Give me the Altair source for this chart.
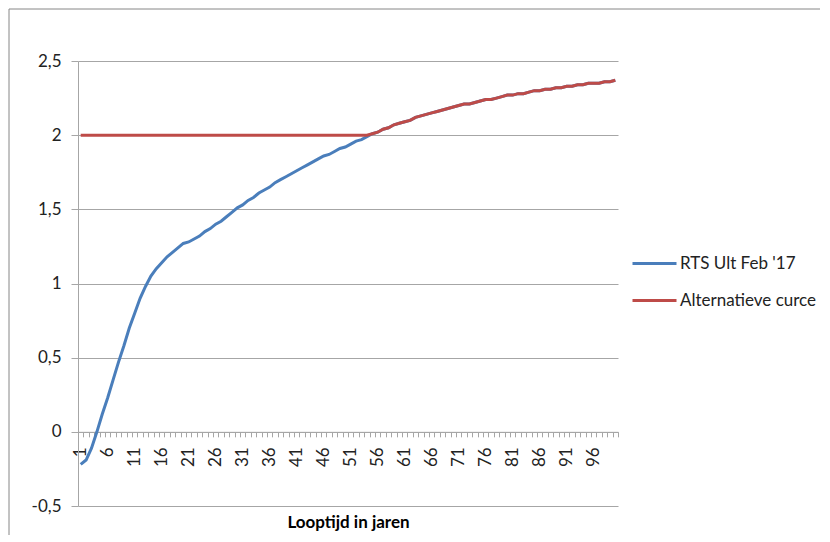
import altair as alt
import pandas as pd

years = list(range(1, 101))

rts = [
    -0.22, -0.19, -0.11, 0.00, 0.12, 0.23, 0.35, 0.47, 0.58, 0.70,
    0.80, 0.90, 0.98, 1.05, 1.10, 1.14, 1.18, 1.21, 1.24, 1.27,
    1.28, 1.30, 1.32, 1.35, 1.37, 1.40, 1.42, 1.45, 1.48, 1.51,
    1.53, 1.56, 1.58, 1.61, 1.63, 1.65, 1.68, 1.70, 1.72, 1.74,
    1.76, 1.78, 1.80, 1.82, 1.84, 1.86, 1.87, 1.89, 1.91, 1.92,
    1.94, 1.96, 1.97, 1.99, 2.01, 2.02, 2.04, 2.05, 2.07, 2.08,
    2.09, 2.10, 2.12, 2.13, 2.14, 2.15, 2.16, 2.17, 2.18, 2.19,
    2.20, 2.21, 2.21, 2.22, 2.23, 2.24, 2.24, 2.25, 2.26, 2.27,
    2.27, 2.28, 2.28, 2.29, 2.30, 2.30, 2.31, 2.31, 2.32, 2.32,
    2.33, 2.33, 2.34, 2.34, 2.35, 2.35, 2.35, 2.36, 2.36, 2.37,
]

alternatief = [
    2.00, 2.00, 2.00, 2.00, 2.00, 2.00, 2.00, 2.00, 2.00, 2.00,
    2.00, 2.00, 2.00, 2.00, 2.00, 2.00, 2.00, 2.00, 2.00, 2.00,
    2.00, 2.00, 2.00, 2.00, 2.00, 2.00, 2.00, 2.00, 2.00, 2.00,
    2.00, 2.00, 2.00, 2.00, 2.00, 2.00, 2.00, 2.00, 2.00, 2.00,
    2.00, 2.00, 2.00, 2.00, 2.00, 2.00, 2.00, 2.00, 2.00, 2.00,
    2.00, 2.00, 2.00, 2.00, 2.01, 2.02, 2.04, 2.05, 2.07, 2.08,
    2.09, 2.10, 2.12, 2.13, 2.14, 2.15, 2.16, 2.17, 2.18, 2.19,
    2.20, 2.21, 2.21, 2.22, 2.23, 2.24, 2.24, 2.25, 2.26, 2.27,
    2.27, 2.28, 2.28, 2.29, 2.30, 2.30, 2.31, 2.31, 2.32, 2.32,
    2.33, 2.33, 2.34, 2.34, 2.35, 2.35, 2.35, 2.36, 2.36, 2.37,
]

series_names = ["RTS Ult Feb '17", "Alternatieve curce"]
series_colors = ["#4a7ebb", "#be4b48"]
y_ticks = [-0.5, 0, 0.5, 1, 1.5, 2, 2.5]
x_title = "Looptijd in jaren"

FONT = "Lato"
FS = 17
W, H = 540, 445
ZERO_OFFSET = -H * 0.5 / 3.0

df_rts = pd.DataFrame({"t": years, "v": rts, "s": series_names[0]})
df_alt = pd.DataFrame({"t": years, "v": alternatief, "s": series_names[1]})

x_enc = alt.X(
    "t:O",
    bandPosition=0.5,
    scale=alt.Scale(type="band", paddingInner=0, paddingOuter=0),
    axis=alt.Axis(
        title=x_title,
        titleFont=FONT,
        titleFontSize=FS,
        titleFontWeight="bold",
        titleColor="#000000",
        titleY=91,
        titleBaseline="middle",
        offset=ZERO_OFFSET,
        tickBand="extent",
        tickSize=5,
        tickColor="#a6a6a6",
        domainColor="#a6a6a6",
        labelExpr="(datum.value - 1) % 5 == 0 ? datum.value : ''",
        labelOverlap=False,
        labelAngle=270,
        labelAlign="right",
        labelBaseline="middle",
        labelPadding=10,
        labelFont=FONT,
        labelFontSize=FS,
        labelColor="#222222",
        grid=False,
    ),
)

y_enc = alt.Y(
    "v:Q",
    scale=alt.Scale(domain=[-0.5, 2.5], nice=False, zero=False),
    axis=alt.Axis(
        title=None,
        values=y_ticks,
        labelExpr="replace(datum.value + '', '.', ',')",
        tickSize=7,
        tickColor="#a6a6a6",
        domainColor="#a6a6a6",
        gridColor="#a6a6a6",
        grid=True,
        labelFont=FONT,
        labelFontSize=FS,
        labelColor="#222222",
        labelPadding=10,
    ),
)

color_enc = alt.Color(
    "s:N",
    scale=alt.Scale(domain=series_names, range=series_colors),
    legend=alt.Legend(
        title=None,
        orient="none",
        legendX=564,
        legendY=190,
        symbolType="M-2,0H2",
        symbolSize=484,
        symbolStrokeWidth=3,
        labelFont=FONT,
        labelFontSize=FS,
        labelColor="#222222",
        labelOffset=13,
        rowPadding=16,
        padding=0,
    ),
)

frame_df = pd.DataFrame({"k": [0]})
frame_left = alt.Chart(frame_df).mark_rule(stroke="#868686", strokeWidth=1).encode(
    x=alt.value(-69), y=alt.value(-52), y2=alt.value(474)
)
frame_top = alt.Chart(frame_df).mark_rule(stroke="#868686", strokeWidth=1).encode(
    x=alt.value(-69), x2=alt.value(742), y=alt.value(-52)
)

blue = alt.Chart(df_rts).mark_line(strokeWidth=3).encode(x=x_enc, y=y_enc, color=color_enc)
red = alt.Chart(df_alt).mark_line(strokeWidth=3).encode(x=x_enc, y=y_enc, color=color_enc)

chart = (
    alt.layer(frame_left, frame_top, blue, red)
    .properties(width=W, height=H, padding=0)
    .configure_view(stroke="transparent")
)

chart.save("out.html", embed_options={"renderer": "svg", "actions": False})
